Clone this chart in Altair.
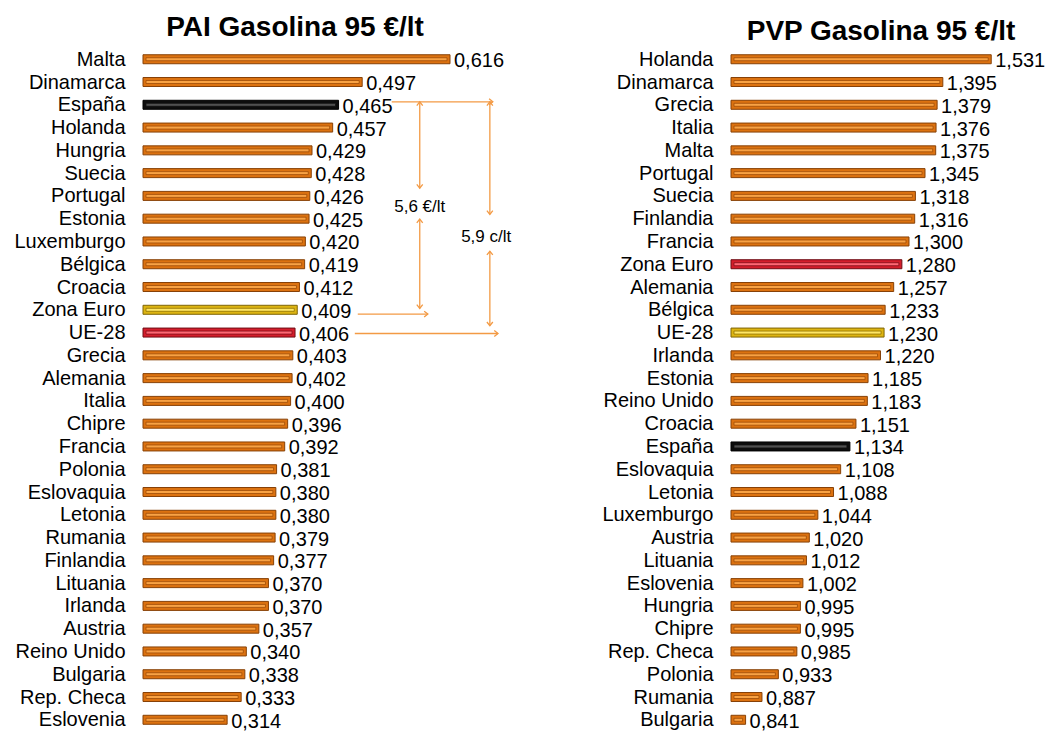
import altair as alt
import pandas as pd

FONT = "Liberation Sans"

# ---------------- data ----------------
pai_names = ["Malta", "Dinamarca", "España", "Holanda", "Hungria", "Suecia", "Portugal",
             "Estonia", "Luxemburgo", "Bélgica", "Croacia", "Zona Euro", "UE-28", "Grecia",
             "Alemania", "Italia", "Chipre", "Francia", "Polonia", "Eslovaquia", "Letonia",
             "Rumania", "Finlandia", "Lituania", "Irlanda", "Austria", "Reino Unido",
             "Bulgaria", "Rep. Checa", "Eslovenia"]
pai_vals = [0.616, 0.497, 0.465, 0.457, 0.429, 0.428, 0.426, 0.425, 0.420, 0.419, 0.412,
            0.409, 0.406, 0.403, 0.402, 0.400, 0.396, 0.392, 0.381, 0.380, 0.380, 0.379,
            0.377, 0.370, 0.370, 0.357, 0.340, 0.338, 0.333, 0.314]

pvp_names = ["Holanda", "Dinamarca", "Grecia", "Italia", "Malta", "Portugal", "Suecia",
             "Finlandia", "Francia", "Zona Euro", "Alemania", "Bélgica", "UE-28", "Irlanda",
             "Estonia", "Reino Unido", "Croacia", "España", "Eslovaquia", "Letonia",
             "Luxemburgo", "Austria", "Lituania", "Eslovenia", "Hungria", "Chipre",
             "Rep. Checa", "Polonia", "Rumania", "Bulgaria"]
pvp_vals = [1.531, 1.395, 1.379, 1.376, 1.375, 1.345, 1.318, 1.316, 1.300, 1.280, 1.257,
            1.233, 1.230, 1.220, 1.185, 1.183, 1.151, 1.134, 1.108, 1.088, 1.044, 1.020,
            1.012, 1.002, 0.995, 0.995, 0.985, 0.933, 0.887, 0.841]

pai_title = "PAI Gasolina 95 €/lt"
pvp_title = "PVP Gasolina 95 €/lt"

pai_highlight = {"España": "black", "Zona Euro": "yellow", "UE-28": "red"}
pvp_highlight = {"España": "black", "Zona Euro": "red", "UE-28": "yellow"}

# annotation (left panel), in data units: x = €/lt, y = row index
ann_seg_x = [0.537, 0.491, 0.487, 0.575, 0.575, 0.670, 0.670]
ann_seg_x2 = [0.674, 0.586, 0.681, 0.575, 0.575, 0.670, 0.670]
ann_seg_y = [1.87, 11.19, 12.04, 1.87, 7.02, 1.87, 8.43]
ann_seg_y2 = [1.87, 11.19, 12.04, 5.66, 10.94, 6.81, 11.70]

ann_right_x = [0.674, 0.586, 0.681]
ann_right_y = [1.87, 11.19, 12.04]
ann_up_x = [0.575, 0.575, 0.670, 0.670]
ann_up_y = [1.87, 7.02, 1.87, 8.43]
ann_down_x = [0.575, 0.575, 0.670, 0.670]
ann_down_y = [5.66, 10.94, 6.81, 11.70]

ann_text = ["5,6 €/lt", "5,9 c/lt"]
ann_text_x = [0.575, 0.665]
ann_text_y = [6.47, 7.79]

# ---------------- styles ----------------
GRPS = ["base", "black", "yellow", "red"]
OUTER = ["#DC7210", "#0D0D0D", "#DDB512", "#D41E2C"]
EDGE = ["#874006", "#000000", "#7E6406", "#6E0C14"]
INNER = ["#F8A244", "#505050", "#FFE766", "#FF6874"]
INNER_EDGE = ["#9E4C08", "#111111", "#8E7000", "#7E0E16"]
ANN_COLOR = "#F39A44"

ROW = 23.1          # px per row
TOP_ROWS = 2.03     # rows of room above the first bar (title area)
BAR = 9


def panel(names, vals, hl, xmin, xmax, px_per_unit, title, title_x, title_y, ann=False):
    n = len(names)
    df = pd.DataFrame({"pais": names, "valor": vals})
    df["row"] = list(range(n))
    df["grp"] = [hl.get(p, "base") for p in names]
    df["label"] = [f"{v:.3f}".replace(".", ",") for v in vals]

    label_expr = "[" + ",".join("'" + p + "'" for p in names) + "][datum.value]"
    yaxis = alt.Axis(values=list(range(n)), labelExpr=label_expr, grid=False, domain=False,
                     ticks=False, labelFontSize=20, labelFont=FONT, labelColor="black",
                     labelPadding=18, labelOverlap=False, labelFlush=False, title=None)
    yscale = alt.Scale(domain=[-TOP_ROWS, n - 1], reverse=True, nice=False, zero=False)
    xscale = alt.Scale(domain=[xmin, xmax], nice=False, zero=False)
    width = (xmax - xmin) * px_per_unit
    height = (n - 1 + TOP_ROWS) * ROW

    Y = alt.Y("row:Q", scale=yscale, axis=yaxis)
    X = alt.X("valor:Q", scale=xscale, axis=None)
    base = alt.Chart(df)

    outer = base.mark_bar(size=BAR, strokeWidth=1).encode(
        x=X, x2=alt.datum(xmin), y=Y,
        fill=alt.Fill("grp:N", scale=alt.Scale(domain=GRPS, range=OUTER), legend=None),
        stroke=alt.Stroke("grp:N", scale=alt.Scale(domain=GRPS, range=EDGE), legend=None),
    )
    inner = base.mark_bar(size=3, strokeWidth=0.8, xOffset=-3, x2Offset=3).encode(
        x=X, x2=alt.datum(xmin), y=Y,
        fill=alt.Fill("grp:N", scale=alt.Scale(domain=GRPS, range=INNER), legend=None),
        stroke=alt.Stroke("grp:N", scale=alt.Scale(domain=GRPS, range=INNER_EDGE), legend=None),
    )
    text = base.mark_text(align="left", baseline="middle", dx=4, dy=2, fontSize=20,
                          font=FONT, color="black").encode(x=X, y=Y, text="label:N")
    ttl = alt.Chart(pd.DataFrame({"t": [title]})).mark_text(
        align="center", baseline="alphabetic", fontSize=28, fontWeight="bold", font=FONT,
        color="black").encode(x=alt.value(title_x), y=alt.value(title_y), text="t:N")
    layers = [outer, inner, text, ttl]

    if ann:
        AX = alt.X("x:Q", scale=xscale, axis=None)
        AY = alt.Y("y:Q", scale=yscale, axis=yaxis)
        seg = pd.DataFrame({"x": ann_seg_x, "x2": ann_seg_x2, "y": ann_seg_y, "y2": ann_seg_y2})
        layers.append(alt.Chart(seg).mark_rule(color=ANN_COLOR, strokeWidth=1.3).encode(
            x=AX, x2="x2:Q", y=AY, y2="y2:Q"))
        heads = [
            (ann_right_x, ann_right_y, "M-1,-0.8L0,0L-1,0.8"),
            (ann_up_x, ann_up_y, "M-0.8,1L0,0L0.8,1"),
            (ann_down_x, ann_down_y, "M-0.8,-1L0,0L0.8,-1"),
        ]
        for hx, hy, path in heads:
            hd = pd.DataFrame({"x": hx, "y": hy})
            layers.append(alt.Chart(hd).mark_point(shape=path, filled=False, size=55,
                                                   strokeWidth=1.3, color=ANN_COLOR,
                                                   opacity=1).encode(x=AX, y=AY))
        td = pd.DataFrame({"t": ann_text, "x": ann_text_x, "y": ann_text_y})
        layers.append(alt.Chart(td).mark_text(fontSize=17, font=FONT, color="black",
                                              baseline="middle").encode(
            x=AX, y=AY, text="t:N"))

    return alt.layer(*layers).resolve_scale(fill="independent", stroke="independent").properties(
        width=width, height=height)


left = panel(pai_names, pai_vals, pai_highlight, 0.2, 0.7, 738, pai_title, 152, 28, ann=True)
right = panel(pvp_names, pvp_vals, pvp_highlight, 0.8, 1.6, 356, pvp_title, 150, 32)

chart = alt.hconcat(left, right, spacing=89).configure_view(stroke=None).properties(
    background="white", padding={"left": 5, "top": 0, "right": 0, "bottom": 0})

chart.save("out.html", embed_options={"renderer": "svg", "actions": False})
